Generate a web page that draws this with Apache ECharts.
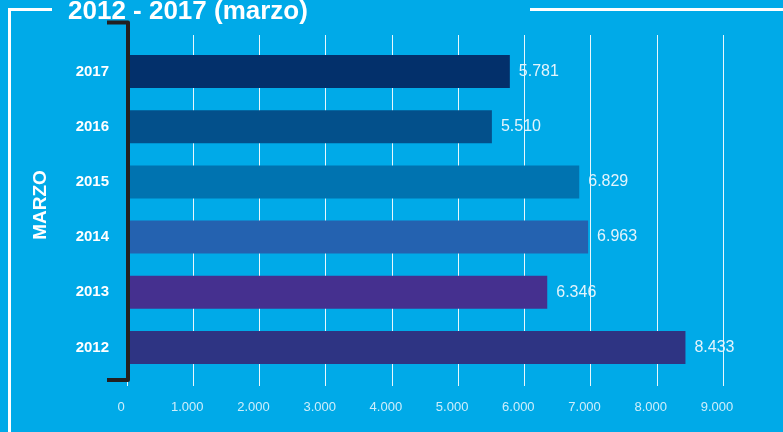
<!DOCTYPE html>
<html>
<head>
<meta charset="utf-8">
<title>2012 - 2017 (marzo)</title>
<script src="https://cdn.jsdelivr.net/npm/echarts@6.0.0/dist/echarts.min.js"></script>
<style>
  html, body { margin: 0; padding: 0; background: #00aae8; }
  #chart { width: 783px; height: 432px; }
</style>
</head>
<body>
<div id="chart"></div>
<script>
// datos del grafico (marzo de cada año)
const years = ['2017', '2016', '2015', '2014', '2013', '2012']
const values = [5781, 5510, 6829, 6963, 6346, 8433]
const xMax = 9000
const xStep = 1000

// un color por barra, mismo orden que years
const barColors = ['#03306b', '#03508b', '#0073b0', '#2462b0', '#45308f', '#2e3483']

const fontFam = "'Liberation Sans', Arial, sans-serif"

// 5781 -> "5.781"
function fmt (v) {
  return String(v).replace(/\B(?=(\d{3})+(?!\d))/g, '.')
}

const chart = echarts.init(document.getElementById('chart'))

const option = {
  backgroundColor: '#00aae8',
  animation: false,
  grid: [
    // barras
    { left: 127, right: 60, top: 44, bottom: 57 },
    // lineas verticales, un poco mas altas que las barras
    { left: 127, right: 60, top: 35, bottom: 46 }
  ],
  xAxis: [
    {
      gridIndex: 0,
      type: 'value',
      min: 0,
      max: xMax,
      interval: xStep,
      axisLine: { show: false },
      axisTick: { show: false },
      splitLine: { show: false },
      axisLabel: {
        margin: 26,
        color: '#cdeefb',
        fontFamily: fontFam,
        fontSize: 13,
        padding: [0, 12, 0, 0],
        formatter: fmt
      }
    },
    {
      gridIndex: 1,
      type: 'value',
      min: 0,
      max: xMax,
      interval: xStep,
      axisLine: { show: false },
      axisTick: { show: false },
      axisLabel: { show: false },
      splitLine: { lineStyle: { color: 'rgba(255,255,255,0.9)', width: 1 } }
    }
  ],
  yAxis: [
    {
      gridIndex: 0,
      type: 'category',
      inverse: true,
      data: years,
      axisLine: { show: false },
      axisTick: { show: false },
      axisLabel: {
        margin: 18,
        color: '#ffffff',
        fontFamily: fontFam,
        fontWeight: 'bold',
        fontSize: 15
      }
    },
    { gridIndex: 1, type: 'value', show: false }
  ],
  series: [
    {
      type: 'bar',
      xAxisIndex: 0,
      yAxisIndex: 0,
      barWidth: 33,
      data: values.map((v, i) => ({ value: v, itemStyle: { color: barColors[i] } })),
      label: {
        show: true,
        position: 'right',
        distance: 9,
        color: '#e3f4fc',
        fontFamily: fontFam,
        fontSize: 16,
        formatter: p => fmt(p.value)
      }
    }
  ],
  graphic: [
    // marco blanco
    {
      type: 'polyline',
      shape: { points: [[52, 9.5], [9.5, 9.5], [9.5, 440]] },
      style: { stroke: '#ffffff', lineWidth: 3, fill: null }
    },
    {
      type: 'line',
      shape: { x1: 530, y1: 9.5, x2: 790, y2: 9.5 },
      style: { stroke: '#ffffff', lineWidth: 3 }
    },
    // titulo
    {
      type: 'text',
      x: 68,
      y: 12,
      style: {
        text: '2012 - 2017 (marzo)',
        fill: '#ffffff',
        font: "bold 26px 'Liberation Sans', Arial, sans-serif",
        verticalAlign: 'middle'
      }
    },
    // corchete negro
    {
      type: 'polyline',
      z: 10,
      shape: { points: [[107, 22.5], [128, 22.5], [128, 380], [107, 380]] },
      style: { stroke: '#231f20', lineWidth: 4, lineJoin: 'round', fill: null }
    },
    // MARZO en vertical
    {
      type: 'text',
      x: 41,
      y: 205,
      rotation: Math.PI / 2,
      style: {
        text: 'MARZO',
        fill: '#ffffff',
        font: "bold 19px 'Liberation Sans', Arial, sans-serif",
        align: 'center',
        verticalAlign: 'middle'
      }
    }
  ]
}

chart.setOption(option)
</script>
</body>
</html>
